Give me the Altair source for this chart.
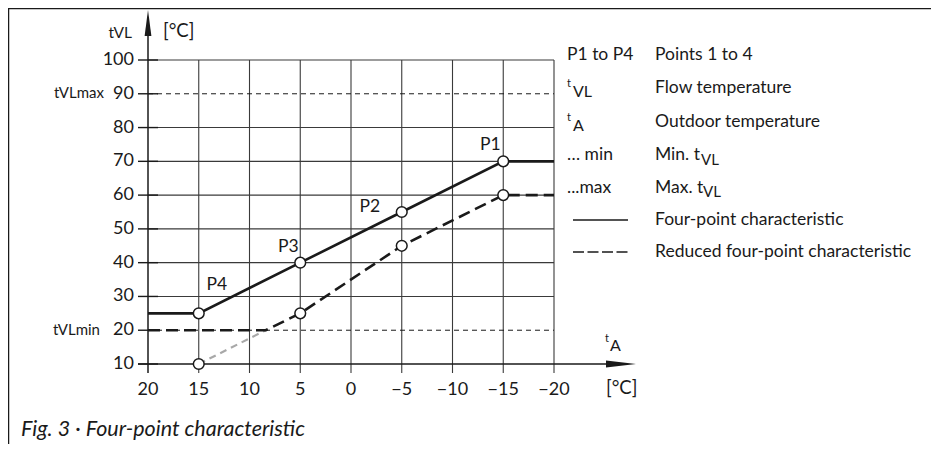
import altair as alt
import pandas as pd

# ---------------- data ----------------
y_ticks = [10, 20, 30, 40, 50, 60, 70, 80, 90, 100]
y_tick_labels = ["10", "20", "30", "40", "50", "60", "70", "80", "90", "100"]
x_ticks = [20, 15, 10, 5, 0, -5, -10, -15, -20]
x_tick_labels = ["20", "15", "10", "5", "0", "\u22125", "\u221210", "\u221215", "\u221220"]
grid_y = [30, 40, 50, 60, 70, 80, 100]
limit_y = [90, 20]

solid_x = [20, 15, 5, -5, -15, -20]
solid_y = [25, 25, 40, 55, 70, 70]
reduced_x = [20, 8.4, 5, -5, -15, -20]
reduced_y = [20, 20, 25, 45, 60, 60]
below_min_x = [15, 8.4]
below_min_y = [10, 20]

point_names = ["P4", "P3", "P2", "P1"]
points_x = [15, 5, -5, -15]
points_y = [25, 40, 55, 70]
reduced_pts_x = [15, 5, -5, -15]
reduced_pts_y = [10, 25, 45, 60]

legend_keys = ["P1 to P4", "", "", "\u2026 min", "...max"]
legend_texts = ["Points 1 to 4", "Flow temperature", "Outdoor temperature", "Min. t", "Max. t",
                "Four-point characteristic", "Reduced four-point characteristic"]
caption = "Fig. 3 \u00b7 Four-point characteristic"

# ---------------- style ----------------
FONT = "Lato"
INK = "#1a1a1a"
GRID = "#3a3a3a"
X = alt.Scale(domain=[20, -20], range=[140, 546])
Y = alt.Scale(domain=[10, 100], range=[356, 52])
ONE = alt.Data(values=[{}])


def xq(f):
    return alt.X(f, type="quantitative", scale=X, axis=None)


def yq(f):
    return alt.Y(f, type="quantitative", scale=Y, axis=None)


def label(text, x, y, size=17.5, align="left", italic=False):
    return alt.Chart(ONE).mark_text(
        text=text, fontSize=size, align=align, baseline="middle", font=FONT,
        fontStyle="italic" if italic else "normal", color=INK
    ).encode(x=alt.value(x), y=alt.value(y))


layers = []

# frame (top and left)
layers.append(alt.Chart(ONE).mark_rule(color=INK, strokeWidth=1.5).encode(
    x=alt.value(0.5), x2=alt.value(923), y=alt.value(0.5)))
layers.append(alt.Chart(ONE).mark_rule(color=INK, strokeWidth=1.5).encode(
    x=alt.value(0.5), y=alt.value(0), y2=alt.value(436)))

# vertical grid lines
vdf = pd.DataFrame({"x": x_ticks[1:], "top": [100] * (len(x_ticks) - 1)})
layers.append(alt.Chart(vdf).mark_rule(color=GRID, strokeWidth=1.1).encode(
    x=xq("x"), y=yq("top"), y2=alt.value(365)))

# horizontal grid lines
gdf = pd.DataFrame({"y": grid_y, "x0": [20] * len(grid_y), "x1": [-20] * len(grid_y)})
layers.append(alt.Chart(gdf).mark_rule(color=GRID, strokeWidth=1.1).encode(
    y=yq("y"), x=xq("x0"), x2=alt.X2("x1")))

# thin dashed limit lines (tVLmax / tVLmin)
ldf = pd.DataFrame({"y": limit_y, "x0": [20] * 2, "x1": [-20] * 2})
layers.append(alt.Chart(ldf).mark_rule(color=INK, strokeWidth=1, strokeDash=[5, 4]).encode(
    y=yq("y"), x=xq("x0"), x2=alt.X2("x1")))

# y tick stubs
tdf = pd.DataFrame({"y": y_ticks, "lab": y_tick_labels})
layers.append(alt.Chart(tdf).mark_rule(color=INK, strokeWidth=1.4).encode(
    y=yq("y"), x=alt.value(130), x2=alt.value(150)))

# x axis line
layers.append(alt.Chart(ONE).mark_rule(color=INK, strokeWidth=1.5).encode(
    x=alt.value(130), x2=alt.value(600), y=alt.value(356)))
# y axis line
layers.append(alt.Chart(ONE).mark_rule(color=INK, strokeWidth=1.5).encode(
    x=alt.value(140), y=alt.value(365), y2=alt.value(26)))

# arrow heads
layers.append(alt.Chart(ONE).mark_point(
    shape="M0,-1L0.26,1L-0.26,1Z", filled=True, size=676, color=INK, opacity=1, strokeWidth=0
).encode(x=alt.value(140), y=alt.value(15)))
layers.append(alt.Chart(ONE).mark_point(
    shape="M1,0L-1,-0.23L-1,0.23Z", filled=True, size=900, color=INK, opacity=1, strokeWidth=0
).encode(x=alt.value(613), y=alt.value(356)))

# tick labels
layers.append(alt.Chart(tdf).mark_text(
    align="right", baseline="middle", fontSize=18, font=FONT, color=INK
).encode(y=yq("y"), x=alt.value(126), text="lab:N"))
xdf = pd.DataFrame({"x": x_ticks, "lab": x_tick_labels})
layers.append(alt.Chart(xdf).mark_text(
    align="center", baseline="middle", fontSize=18, font=FONT, color=INK
).encode(x=xq("x"), y=alt.value(382), text="lab:N"))

# axis titles
layers.append(label("tVL", 124, 25, size=15.5, align="right"))
layers.append(label("[\u00b0C]", 155, 23, size=18.5))
layers.append(label("tVLmax", 96, 85, size=15, align="right"))
layers.append(label("tVLmin", 92, 322, size=15, align="right"))
layers.append(label("t", 597, 331, size=11))
layers.append(label("A", 602, 338, size=16))
layers.append(label("[\u00b0C]", 598, 380, size=18.5))

# grey part of the reduced characteristic (below tVLmin)
bdf = pd.DataFrame({"x": below_min_x, "y": below_min_y})
layers.append(alt.Chart(bdf).mark_line(color="#a8a8a8", strokeWidth=2.2, strokeDash=[7, 5]).encode(
    x=xq("x"), y=yq("y")))

# reduced four-point characteristic
rdf = pd.DataFrame({"x": reduced_x, "y": reduced_y, "o": range(len(reduced_x))})
layers.append(alt.Chart(rdf).mark_line(color=INK, strokeWidth=2.6, strokeDash=[12, 6]).encode(
    x=xq("x"), y=yq("y"), order="o:Q"))

# four-point characteristic
sdf = pd.DataFrame({"x": solid_x, "y": solid_y, "o": range(len(solid_x))})
layers.append(alt.Chart(sdf).mark_line(color=INK, strokeWidth=2.6).encode(
    x=xq("x"), y=yq("y"), order="o:Q"))

# points
pdf = pd.DataFrame({"x": points_x + reduced_pts_x, "y": points_y + reduced_pts_y})
layers.append(alt.Chart(pdf).mark_point(
    shape="circle", filled=True, fill="white", stroke=INK, strokeWidth=1.5, size=115, opacity=1
).encode(x=xq("x"), y=yq("y")))

# point labels
label_offsets = {"P4": (18, -28), "P3": (-12, -16), "P2": (-32, -5), "P1": (-13, -16)}
for name, px, py in zip(point_names, points_x, points_y):
    dx, dy = label_offsets[name]
    d = pd.DataFrame({"x": [px], "y": [py], "t": [name]})
    layers.append(alt.Chart(d).mark_text(
        fontSize=17.5, font=FONT, color=INK, align="center", baseline="middle", dx=dx, dy=dy
    ).encode(x=xq("x"), y=yq("y"), text="t:N"))

# legend
rows = [47, 80, 114, 147, 180, 212, 244]
layers.append(label(legend_keys[0], 559, rows[0]))
layers.append(label("t", 559, rows[1] - 4, size=11))
layers.append(label("VL", 565, rows[1] + 4, size=16))
layers.append(label("t", 559, rows[2] - 4, size=11))
layers.append(label("A", 565, rows[2] + 4, size=16))
layers.append(label(legend_keys[3], 559, rows[3]))
layers.append(label(legend_keys[4], 559, rows[4]))
layers.append(alt.Chart(ONE).mark_rule(color=INK, strokeWidth=1.4).encode(
    x=alt.value(565), x2=alt.value(620), y=alt.value(rows[5])))
layers.append(alt.Chart(ONE).mark_rule(color=INK, strokeWidth=1.4, strokeDash=[11, 3.5]).encode(
    x=alt.value(565), x2=alt.value(620), y=alt.value(rows[6])))
for i, t in enumerate(legend_texts):
    layers.append(label(t, 647, rows[i]))
layers.append(label("VL", 693, rows[3] + 5, size=15))
layers.append(label("VL", 695, rows[4] + 4, size=15))

# caption
layers.append(label(caption, 13, 422, size=21.5, italic=True))

chart = alt.layer(*layers).properties(
    width=923, height=436, autosize=alt.AutoSizeParams(type="none"), padding=0
).configure_view(stroke=None)

chart.save("out.html", embed_options={"renderer": "svg", "actions": False})
